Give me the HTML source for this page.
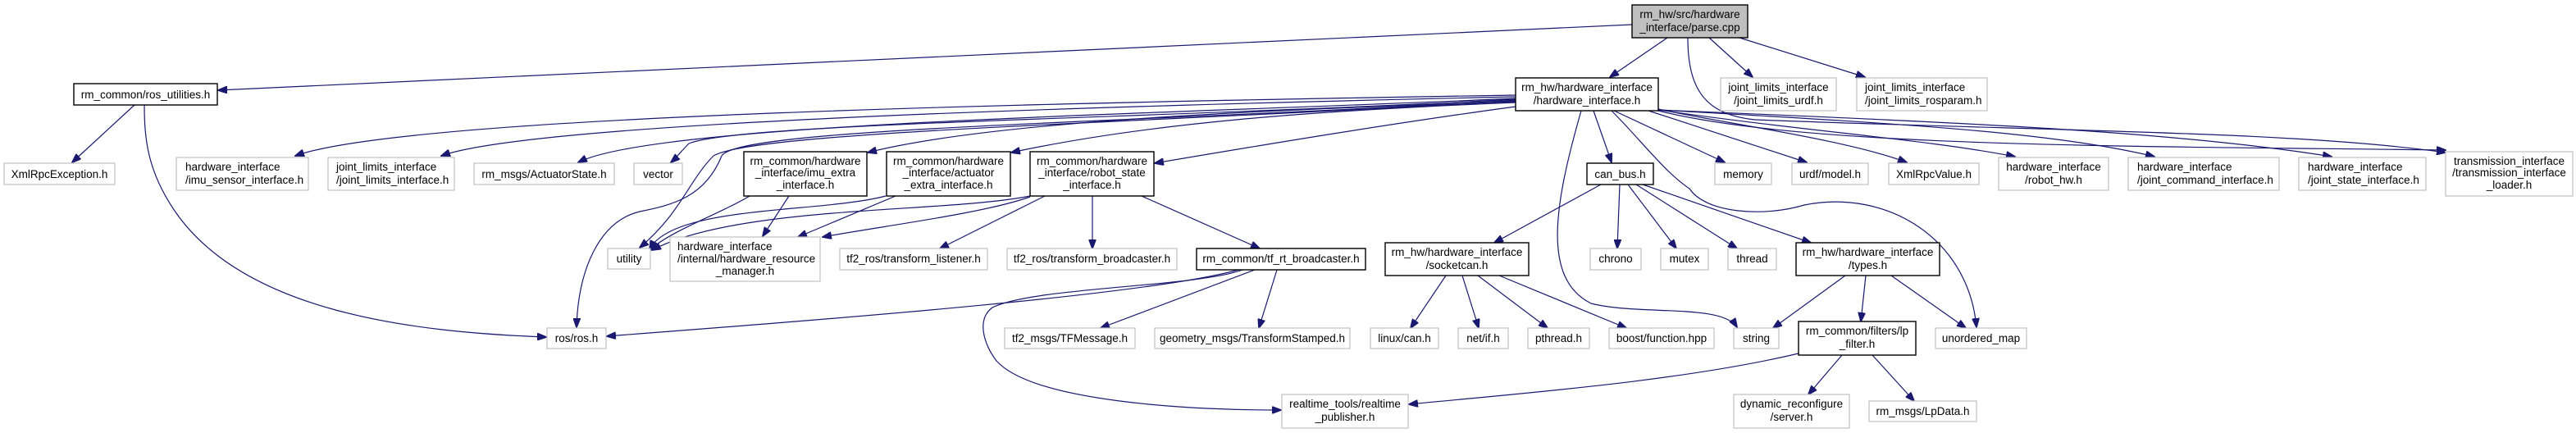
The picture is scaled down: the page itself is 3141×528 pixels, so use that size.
<!DOCTYPE html>
<html><head><meta charset="utf-8"><style>
html,body{margin:0;padding:0;background:#fff;}
svg{display:block;}
text{font-family:"Liberation Sans",Arial,sans-serif;font-size:13.5px;fill:#000;}
.n{fill:#fff;stroke:#000;stroke-width:1.4;}
.g{fill:#fff;stroke:#c0c0c0;stroke-width:1.2;}
.e{fill:none;stroke:#191970;stroke-width:1.2;}
</style></head><body>
<svg width="3141" height="528" viewBox="0 0 3141 528" xmlns="http://www.w3.org/2000/svg">
<defs><marker id="a" markerWidth="12" markerHeight="9" refX="11" refY="4.5" orient="auto" markerUnits="userSpaceOnUse"><path d="M0,0 L12,4.5 L0,9 z" fill="#191970" stroke="#191970"/></marker></defs>
<g marker-end="url(#a)">
<path class="e" d="M1990,30 L266,110"/>
<path class="e" d="M2033,46 L1963,94"/>
<path class="e" d="M2084,46 L2137,94"/>
<path class="e" d="M2121,46 L2274,94"/>
<path class="e" d="M2058,46 C2058,110 2080,140 2140,146 C2500,160 2800,160 2982,186"/>
<path class="e" d="M164,128 L88,198"/>
<path class="e" d="M176,128 C176,170 180,210 215,260 C300,380 500,405 666,411"/>
<path class="e" d="M1848,116 C1300,125 500,140 360,190"/>
<path class="e" d="M1848,118 C1300,130 650,150 538,190"/>
<path class="e" d="M1848,120 C1400,140 800,150 705,198"/>
<path class="e" d="M1848,121 C1400,145 900,150 840,175 C830,185 825,192 818,198"/>
<path class="e" d="M1848,122 C1400,150 900,155 880,190 C860,240 820,250 780,258 C730,270 705,330 703,399"/>
<path class="e" d="M1848,123 C1400,150 920,160 870,190 C840,220 830,260 780,302"/>
<path class="e" d="M1848,124 C1500,135 1200,150 1058,186"/>
<path class="e" d="M1848,125 C1600,135 1400,150 1233,186"/>
<path class="e" d="M1848,130 C1700,150 1550,175 1408,199"/>
<path class="e" d="M1943,135 L1965,198"/>
<path class="e" d="M1968,135 L2103,198"/>
<path class="e" d="M2010,135 L2203,198"/>
<path class="e" d="M2022,133 C2100,150 2250,170 2325,198"/>
<path class="e" d="M2022,134 C2200,160 2350,170 2457,191"/>
<path class="e" d="M2022,134 C2300,150 2500,160 2627,191"/>
<path class="e" d="M2022,134 C2400,150 2650,160 2843,191"/>
<path class="e" d="M2022,135 C2200,180 2600,178 2982,183"/>
<path class="e" d="M1928,135 C1895,250 1880,340 1940,370 C2000,385 2100,370 2118,399"/>
<path class="e" d="M1965,135 C2000,170 2030,210 2060,230 C2080,260 2150,265 2200,250 C2300,230 2400,290 2410,399"/>
<path class="e" d="M914,239 C880,260 820,280 792,305"/>
<path class="e" d="M962,239 L930,288"/>
<path class="e" d="M1080,239 C1000,260 820,250 792,304"/>
<path class="e" d="M1092,239 L973,289"/>
<path class="e" d="M1256,239 C1150,260 900,250 795,305"/>
<path class="e" d="M1256,240 C1200,260 1080,275 1003,289"/>
<path class="e" d="M1274,239 L1146,303"/>
<path class="e" d="M1332,239 L1332,303"/>
<path class="e" d="M1392,239 L1536,303"/>
<path class="e" d="M1510,329 C1400,360 1000,390 740,410"/>
<path class="e" d="M1530,329 L1342,400"/>
<path class="e" d="M1557,329 L1535,400"/>
<path class="e" d="M1515,329 C1460,350 1260,350 1210,375 C1190,390 1200,420 1215,440 C1260,490 1450,500 1562,500"/>
<path class="e" d="M1952,225 L1822,296"/>
<path class="e" d="M1975,225 L1972,303"/>
<path class="e" d="M1985,225 L2044,303"/>
<path class="e" d="M1995,225 L2118,303"/>
<path class="e" d="M2003,225 L2208,296"/>
<path class="e" d="M1763,336 L1720,400"/>
<path class="e" d="M1783,336 L1803,400"/>
<path class="e" d="M1802,336 L1887,400"/>
<path class="e" d="M1828,336 L1983,400"/>
<path class="e" d="M2250,336 L2162,400"/>
<path class="e" d="M2275,336 L2269,392"/>
<path class="e" d="M2306,336 L2397,400"/>
<path class="e" d="M2193,431 C2050,465 1850,480 1718,493"/>
<path class="e" d="M2246,433 L2205,481"/>
<path class="e" d="M2283,433 L2334,489"/>
</g>

<rect x="1990" y="6" width="141" height="40" fill="#bfbfbf" stroke="#000" stroke-width="1.4"/>
<text x="2060.5" y="22" text-anchor="middle">rm_hw/src/hardware</text>
<text x="2060.5" y="38" text-anchor="middle">_interface/parse.cpp</text>

<rect class="n" x="90" y="102" width="175" height="26"/><text x="177.5" y="120" text-anchor="middle">rm_common/ros_utilities.h</text>
<rect class="n" x="1848" y="95" width="174" height="40"/><text x="1935" y="111" text-anchor="middle">rm_hw/hardware_interface</text><text x="1935" y="127" text-anchor="middle">/hardware_interface.h</text>
<rect class="g" x="2098" y="95" width="141" height="40"/><text x="2168.5" y="111" text-anchor="middle">joint_limits_interface</text><text x="2168.5" y="127" text-anchor="middle">/joint_limits_urdf.h</text>
<rect class="g" x="2264" y="95" width="159" height="40"/><text x="2274" y="111">joint_limits_interface</text><text x="2274" y="127">/joint_limits_rosparam.h</text>

<rect class="g" x="5" y="199" width="135" height="26"/><text x="72.5" y="217" text-anchor="middle">XmlRpcException.h</text>
<rect class="g" x="215" y="192" width="161" height="40"/><text x="226" y="208">hardware_interface</text><text x="226" y="224">/imu_sensor_interface.h</text>
<rect class="g" x="400" y="192" width="154" height="40"/><text x="410" y="208">joint_limits_interface</text><text x="410" y="224">/joint_limits_interface.h</text>
<rect class="g" x="578" y="199" width="171" height="26"/><text x="663.5" y="217" text-anchor="middle">rm_msgs/ActuatorState.h</text>
<rect class="g" x="773" y="199" width="59" height="26"/><text x="802.5" y="217" text-anchor="middle">vector</text>
<rect class="n" x="907" y="185" width="150" height="54"/><text x="982" y="201" text-anchor="middle">rm_common/hardware</text><text x="982" y="215" text-anchor="middle">_interface/imu_extra</text><text x="982" y="230" text-anchor="middle">_interface.h</text>
<rect class="n" x="1081" y="185" width="151" height="54"/><text x="1156.5" y="201" text-anchor="middle">rm_common/hardware</text><text x="1156.5" y="215" text-anchor="middle">_interface/actuator</text><text x="1156.5" y="230" text-anchor="middle">_extra_interface.h</text>
<rect class="n" x="1256" y="185" width="151" height="54"/><text x="1331.5" y="201" text-anchor="middle">rm_common/hardware</text><text x="1331.5" y="215" text-anchor="middle">_interface/robot_state</text><text x="1331.5" y="230" text-anchor="middle">_interface.h</text>
<rect class="n" x="1935" y="199" width="81" height="26"/><text x="1975.5" y="217" text-anchor="middle">can_bus.h</text>
<rect class="g" x="2091" y="199" width="69" height="26"/><text x="2125.5" y="217" text-anchor="middle">memory</text>
<rect class="g" x="2185" y="199" width="93" height="26"/><text x="2231.5" y="217" text-anchor="middle">urdf/model.h</text>
<rect class="g" x="2303" y="199" width="110" height="26"/><text x="2358" y="217" text-anchor="middle">XmlRpcValue.h</text>
<rect class="g" x="2437" y="192" width="134" height="40"/><text x="2504" y="208" text-anchor="middle">hardware_interface</text><text x="2504" y="224" text-anchor="middle">/robot_hw.h</text>
<rect class="g" x="2595" y="192" width="184" height="40"/><text x="2606" y="208">hardware_interface</text><text x="2606" y="224">/joint_command_interface.h</text>
<rect class="g" x="2803" y="192" width="155" height="40"/><text x="2814" y="208">hardware_interface</text><text x="2814" y="224">/joint_state_interface.h</text>
<rect class="g" x="2982" y="185" width="155" height="54"/><text x="3059.5" y="201" text-anchor="middle">transmission_interface</text><text x="3059.5" y="215" text-anchor="middle">/transmission_interface</text><text x="3059.5" y="230" text-anchor="middle">_loader.h</text>

<rect class="g" x="741" y="303" width="52" height="25"/><text x="767" y="320" text-anchor="middle">utility</text>
<rect class="g" x="817" y="289" width="183" height="54"/><text x="826" y="305">hardware_interface</text><text x="826" y="320">/internal/hardware_resource</text><text x="908.5" y="335" text-anchor="middle">_manager.h</text>
<rect class="g" x="1024" y="303" width="180" height="26"/><text x="1114" y="320" text-anchor="middle">tf2_ros/transform_listener.h</text>
<rect class="g" x="1228" y="303" width="207" height="26"/><text x="1331.5" y="320" text-anchor="middle">tf2_ros/transform_broadcaster.h</text>
<rect class="n" x="1459" y="303" width="206" height="26"/><text x="1562" y="320" text-anchor="middle">rm_common/tf_rt_broadcaster.h</text>
<rect class="n" x="1689" y="296" width="175" height="40"/><text x="1776.5" y="312" text-anchor="middle">rm_hw/hardware_interface</text><text x="1776.5" y="328" text-anchor="middle">/socketcan.h</text>
<rect class="g" x="1939" y="303" width="62" height="26"/><text x="1970" y="320" text-anchor="middle">chrono</text>
<rect class="g" x="2025" y="303" width="58" height="26"/><text x="2054" y="320" text-anchor="middle">mutex</text>
<rect class="g" x="2107" y="303" width="59" height="26"/><text x="2136.5" y="320" text-anchor="middle">thread</text>
<rect class="n" x="2190" y="296" width="175" height="40"/><text x="2277.5" y="312" text-anchor="middle">rm_hw/hardware_interface</text><text x="2277.5" y="328" text-anchor="middle">/types.h</text>

<rect class="g" x="667" y="400" width="72" height="25"/><text x="703" y="417" text-anchor="middle">ros/ros.h</text>
<rect class="g" x="1225" y="400" width="159" height="25"/><text x="1304.5" y="417" text-anchor="middle">tf2_msgs/TFMessage.h</text>
<rect class="g" x="1408" y="400" width="238" height="25"/><text x="1527" y="417" text-anchor="middle">geometry_msgs/TransformStamped.h</text>
<rect class="g" x="1671" y="400" width="83" height="25"/><text x="1712.5" y="417" text-anchor="middle">linux/can.h</text>
<rect class="g" x="1778" y="400" width="61" height="25"/><text x="1808.5" y="417" text-anchor="middle">net/if.h</text>
<rect class="g" x="1863" y="400" width="75" height="25"/><text x="1900.5" y="417" text-anchor="middle">pthread.h</text>
<rect class="g" x="1962" y="400" width="128" height="25"/><text x="2026" y="417" text-anchor="middle">boost/function.hpp</text>
<rect class="g" x="2114" y="400" width="55" height="25"/><text x="2141.5" y="417" text-anchor="middle">string</text>
<rect class="n" x="2193" y="392" width="143" height="41"/><text x="2264.5" y="408" text-anchor="middle">rm_common/filters/lp</text><text x="2264.5" y="424" text-anchor="middle">_filter.h</text>
<rect class="g" x="2360" y="400" width="111" height="25"/><text x="2415.5" y="417" text-anchor="middle">unordered_map</text>

<rect class="g" x="1563" y="481" width="154" height="41"/><text x="1640" y="497" text-anchor="middle">realtime_tools/realtime</text><text x="1640" y="513" text-anchor="middle">_publisher.h</text>
<rect class="g" x="2114" y="481" width="141" height="41"/><text x="2184.5" y="497" text-anchor="middle">dynamic_reconfigure</text><text x="2184.5" y="513" text-anchor="middle">/server.h</text>
<rect class="g" x="2279" y="489" width="131" height="25"/><text x="2344.5" y="506" text-anchor="middle">rm_msgs/LpData.h</text>
</svg>
</body></html>
